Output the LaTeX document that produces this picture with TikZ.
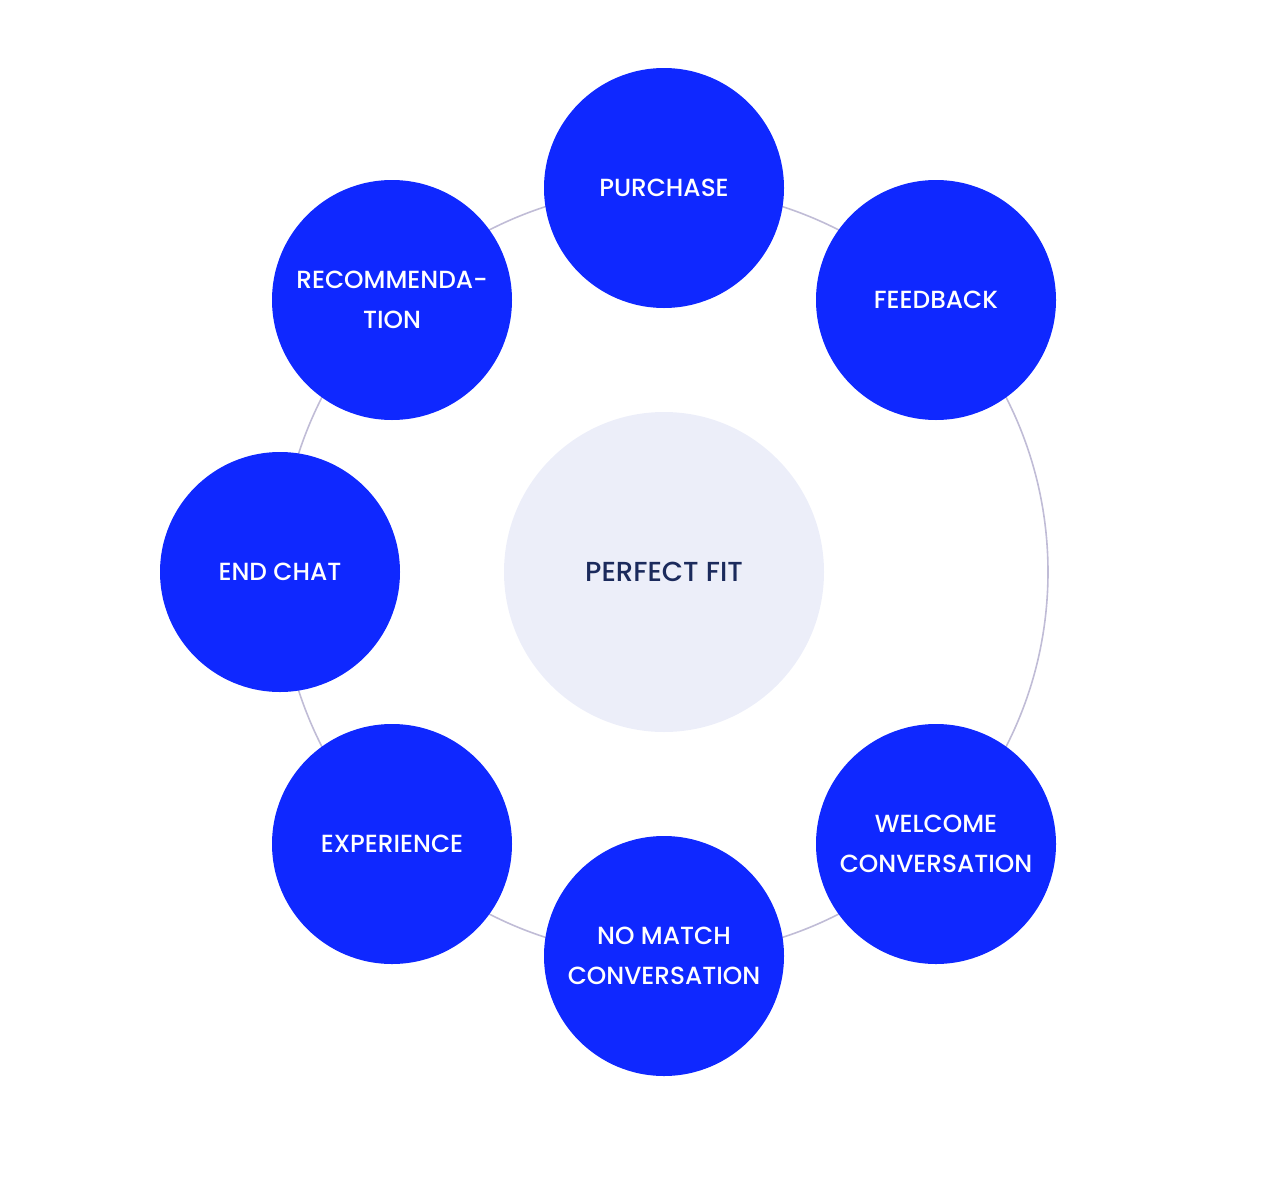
\documentclass[tikz,border=0pt]{standalone}
\usepackage{fontspec}
\setmainfont{Poppins Medium}
\definecolor{bblue}{HTML}{0F28FF}
\definecolor{pale}{HTML}{ECEEF9}
\definecolor{navy}{HTML}{1B2A5C}
\definecolor{ring}{HTML}{C0BCD6}
\begin{document}
\begin{tikzpicture}[x=1pt,y=-1pt,
  stage/.style={circle,fill=bblue,minimum size=240pt,inner sep=0pt,text=white,align=center,font=\fontsize{24.8}{40}\selectfont},
  hub/.style={circle,fill=pale,minimum size=320pt,inner sep=0pt,text=navy,align=center,font=\fontsize{27.5}{40}\selectfont}]
\useasboundingbox (0,0) rectangle (1270,1186);
\coordinate (c) at (664,572);
\draw[ring,line width=1.6pt] (c) circle[radius=384];
\node[hub] (fit) at (c) {PERFECT FIT};
\node[stage] (purchase) at (664,188) {PURCHASE};
\node[stage] (feedback) at (936,300) {FEEDBACK};
\node[stage] (welcome) at (936,844) {WELCOME\\CONVERSATION};
\node[stage] (nomatch) at (664,956) {NO MATCH\\CONVERSATION};
\node[stage] (experience) at (392,844) {EXPERIENCE};
\node[stage] (endchat) at (280,572) {END CHAT};
\node[stage] (recommend) at (392,300) {RECOMMENDA-\\TION};
\end{tikzpicture}
\end{document}
